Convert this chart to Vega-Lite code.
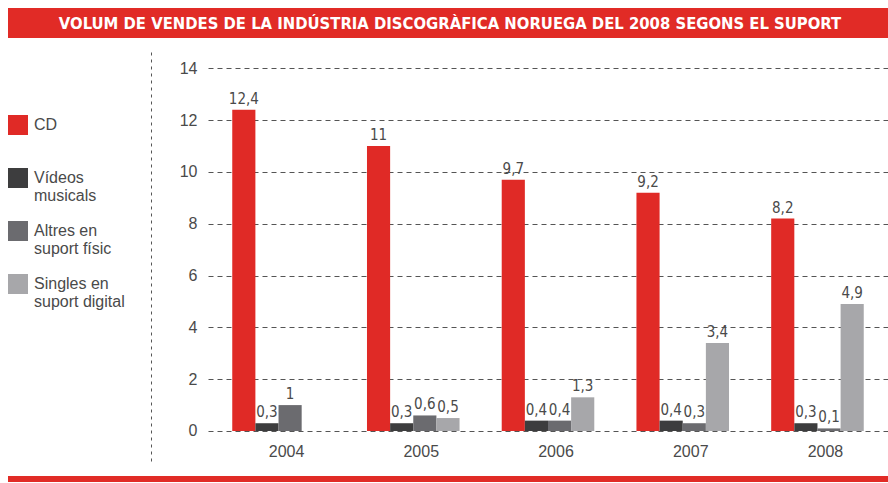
{
  "$schema": "https://vega.github.io/schema/vega-lite/v6.json",
  "padding": {"left": 8, "top": 8, "right": 0, "bottom": 0},
  "background": "white",
  "spacing": 12,
  "center": false,
  "config": {
    "view": {"stroke": null},
    "locale": {"number": {"decimal": ",", "thousands": ".", "grouping": [3], "currency": ["", " €"]}},
    "font": "Liberation Sans"
  },
  "vconcat": [
    {
      "width": 880,
      "height": 30,
      "view": {"fill": "#e12b26", "stroke": null},
      "data": {"values": [{"titol": "VOLUM DE VENDES DE LA INDÚSTRIA DISCOGRÀFICA NORUEGA DEL 2008 SEGONS EL SUPORT"}]},
      "mark": {"type": "text", "color": "white", "font": "DejaVu Sans Condensed", "fontWeight": "bold", "fontSize": 16.5, "dy": 1, "dx": 2},
      "encoding": {"text": {"field": "titol"}}
    },
    {
      "width": 880,
      "height": 411,
      "data": {"values": [
        {"any": "2004", "suport": "CD", "valor": 12.4},
        {"any": "2004", "suport": "Vídeos musicals", "valor": 0.3},
        {"any": "2004", "suport": "Altres en suport físic", "valor": 1},
        {"any": "2005", "suport": "CD", "valor": 11},
        {"any": "2005", "suport": "Vídeos musicals", "valor": 0.3},
        {"any": "2005", "suport": "Altres en suport físic", "valor": 0.6},
        {"any": "2005", "suport": "Singles en suport digital", "valor": 0.5},
        {"any": "2006", "suport": "CD", "valor": 9.7},
        {"any": "2006", "suport": "Vídeos musicals", "valor": 0.4},
        {"any": "2006", "suport": "Altres en suport físic", "valor": 0.4},
        {"any": "2006", "suport": "Singles en suport digital", "valor": 1.3},
        {"any": "2007", "suport": "CD", "valor": 9.2},
        {"any": "2007", "suport": "Vídeos musicals", "valor": 0.4},
        {"any": "2007", "suport": "Altres en suport físic", "valor": 0.3},
        {"any": "2007", "suport": "Singles en suport digital", "valor": 3.4},
        {"any": "2008", "suport": "CD", "valor": 8.2},
        {"any": "2008", "suport": "Vídeos musicals", "valor": 0.3},
        {"any": "2008", "suport": "Altres en suport físic", "valor": 0.1},
        {"any": "2008", "suport": "Singles en suport digital", "valor": 4.9}
      ]},
      "encoding": {
        "x": {
          "field": "any", "type": "nominal",
          "scale": {"range": [200, 880], "paddingInner": 0.313, "paddingOuter": 0.18},
          "axis": {"title": null, "domain": false, "ticks": false, "labelAngle": 0, "labelFontSize": 16, "labelColor": "#4a4a4a", "labelPadding": 12, "labelOffset": 8, "offset": -30}
        },
        "xOffset": {
          "field": "suport", "type": "nominal",
          "scale": {"domain": ["CD", "Vídeos musicals", "Altres en suport físic", "Singles en suport digital"], "paddingInner": 0, "paddingOuter": 0}
        },
        "y": {
          "field": "valor", "type": "quantitative",
          "scale": {"domain": [-1.158, 14.706], "nice": false, "zero": false}
        }
      },
      "layer": [
        {
          "mark": {"type": "bar"},
          "encoding": {
            "y": {
              "field": "valor", "type": "quantitative",
              "axis": {"title": null, "offset": -204, "values": [0, 2, 4, 6, 8, 10, 12, 14], "domain": false, "ticks": false, "labelFontSize": 16, "labelColor": "#4a4a4a", "labelPadding": 15, "grid": true, "gridDash": [5, 4], "gridColor": "#555555", "gridWidth": 1, "gridOpacity": 1}
            },
            "y2": {"datum": 0},
            "color": {
              "field": "suport", "type": "nominal",
              "scale": {"domain": ["CD", "Vídeos musicals", "Altres en suport físic", "Singles en suport digital"], "range": ["#e02a26", "#3d3d3e", "#6b6b6f", "#a7a7aa"]},
              "legend": {
                "title": null, "orient": "none", "legendX": 0, "legendY": 99,
                "symbolType": "M-1,-0.2H1V1.8H-1Z", "symbolSize": 400, "symbolStrokeWidth": 0, "symbolOpacity": 1,
                "labelFontSize": 16, "labelColor": "#4a4a4a", "labelOffset": 6, "labelLimit": 200,
                "labelBaseline": "top", "rowPadding": 9, "padding": 0,
                "labelExpr": "datum.label == 'CD' ? ['CD', ' '] : datum.label == 'Vídeos musicals' ? ['Vídeos', 'musicals'] : datum.label == 'Altres en suport físic' ? ['Altres en', 'suport físic'] : datum.label == 'Singles en suport digital' ? ['Singles en', 'suport digital'] : datum.label"
              }
            }
          }
        },
        {
          "mark": {"type": "text", "baseline": "bottom", "dy": -3, "font": "DejaVu Sans Condensed", "fontSize": 15, "color": "#4a4a4a"},
          "encoding": {
            "y": {
              "field": "valor", "type": "quantitative",
              "axis": {"title": null, "orient": "left", "offset": -143, "labels": false, "ticks": false, "grid": false, "domain": true, "domainDash": [3, 4], "domainColor": "#555555", "domainWidth": 1}
            },
            "text": {"field": "valor", "type": "quantitative", "format": ".1~f"}
          }
        }
      ],
      "resolve": {"axis": {"y": "independent"}}
    },
    {
      "width": 880,
      "height": 6,
      "view": {"fill": "#e12b26", "stroke": null},
      "data": {"values": [{"t": ""}]},
      "mark": {"type": "text"},
      "encoding": {"text": {"field": "t"}}
    }
  ]
}
